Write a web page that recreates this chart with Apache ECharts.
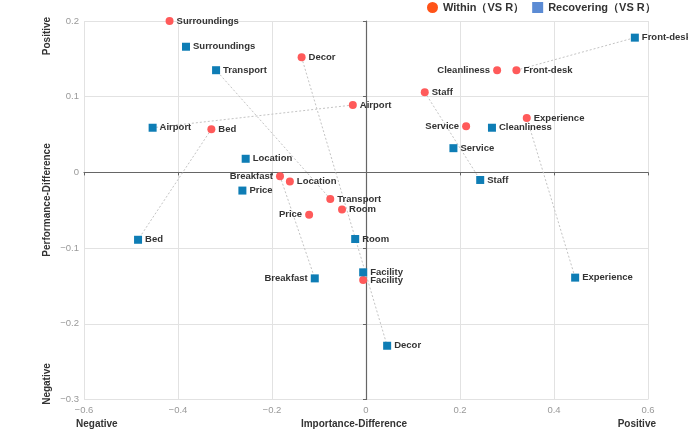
<!DOCTYPE html>
<html>
<head>
<meta charset="utf-8">
<script src="https://cdn.jsdelivr.net/npm/echarts@6/dist/echarts.min.js"></script>
<style>
  html, body { margin: 0; padding: 0; background: #fff; }
  #chart { width: 688px; height: 443px; }
</style>
</head>
<body>
<div id="chart"></div>
<script>
const FONT = "'Liberation Sans', Arial, sans-serif";
const WITHIN_COLOR = "#ff5a5a";
const RECOV_COLOR = "#0e7db5";
const LABEL_COLOR = "#333";
const AXIS_TEXT = "#999";

const withinNames = ["Surroundings", "Decor", "Airport", "Bed", "Breakfast", "Location", "Transport",
  "Room", "Price", "Facility", "Cleanliness", "Front-desk", "Staff", "Service", "Experience"];
const withinX = [-0.418, -0.137, -0.028, -0.329, -0.183, -0.162, -0.076,
  -0.051, -0.121, -0.006, 0.279, 0.320, 0.125, 0.213, 0.342];
const withinY = [0.200, 0.152, 0.089, 0.057, -0.005, -0.012, -0.035,
  -0.049, -0.056, -0.142, 0.135, 0.135, 0.106, 0.061, 0.072];

const recovNames = ["Surroundings", "Transport", "Airport", "Location", "Price", "Bed", "Breakfast",
  "Room", "Facility", "Decor", "Experience", "Staff", "Service", "Cleanliness", "Front-desk"];
const recovX = [-0.383, -0.319, -0.454, -0.256, -0.263, -0.485, -0.109,
  -0.023, -0.006, 0.045, 0.445, 0.243, 0.186, 0.268, 0.572];
const recovY = [0.166, 0.135, 0.059, 0.018, -0.024, -0.089, -0.140,
  -0.088, -0.132, -0.229, -0.139, -0.010, 0.032, 0.059, 0.178];

// pairs joined by a dotted line
const linkedNames = ["Front-desk", "Decor", "Airport", "Bed", "Transport", "Staff", "Experience", "Breakfast"];
// labels drawn on the left of the symbol
const withinLeft = ["Breakfast", "Price", "Service", "Cleanliness"];
const recovLeft = ["Breakfast"];

const xTicks = { min: -0.6, max: 0.6, interval: 0.2 };
const yTicks = { min: -0.3, max: 0.2, interval: 0.1 };

const fmtNum = (v) => {
  const s = String(Math.round(v * 10) / 10);
  return s.replace("-", "\u2212");
};

function points(names, xs, ys, leftNames) {
  return names.map((n, i) => ({
    name: n,
    value: [xs[i], ys[i]],
    label: { position: leftNames.includes(n) ? "left" : "right" },
  }));
}

const linkSeries = linkedNames.map((n) => {
  const a = withinNames.indexOf(n);
  const b = recovNames.indexOf(n);
  return {
    type: "line",
    xAxisIndex: 0,
    yAxisIndex: 0,
    silent: true,
    symbol: "none",
    lineStyle: { color: "#c4c4c4", width: 1, type: [2, 2] },
    data: [[withinX[a], withinY[a]], [recovX[b], recovY[b]]],
    z: 1,
  };
});

const labelStyle = {
  show: true,
  formatter: "{b}",
  color: LABEL_COLOR,
  fontSize: 9.5,
  fontWeight: "bold",
  fontFamily: FONT,
  distance: 3,
};

const edgeFont = "bold 10px " + FONT;

const chart = echarts.init(document.getElementById("chart"), null, { renderer: "canvas" });

chart.setOption({
  animation: false,
  backgroundColor: "#fff",
  textStyle: { fontFamily: FONT },
  legend: {
    left: 427,
    top: 0,
    padding: [2, 0],
    itemWidth: 11,
    itemHeight: 11,
    itemGap: 8,
    textStyle: { color: LABEL_COLOR, fontSize: 11, fontWeight: "bold", fontFamily: FONT },
    data: [
      { name: "Within（VS R）", icon: "circle", itemStyle: { color: "#ff5318" } },
      { name: "Recovering（VS R）", icon: "rect", itemStyle: { color: "#5b8bd4" } },
    ],
  },
  grid: { left: 84, right: 40, top: 21, bottom: 43.5 },
  xAxis: [
    {
      type: "value",
      ...xTicks,
      axisLine: { show: false },
      axisTick: { show: false },
      axisLabel: { color: AXIS_TEXT, fontSize: 9.5, margin: 6, formatter: fmtNum },
      splitLine: { lineStyle: { color: "#e2e2e2", width: 1 } },
    },
    {
      type: "value",
      ...xTicks,
      position: "bottom",
      axisLine: { show: true, onZero: true, onZeroAxisIndex: 0, lineStyle: { color: "#666", width: 1.2 } },
      axisTick: { show: true, length: 3, lineStyle: { color: "#666" } },
      axisLabel: { show: false },
      splitLine: { show: false },
    },
  ],
  yAxis: [
    {
      type: "value",
      ...yTicks,
      axisLine: { show: false },
      axisTick: { show: false },
      axisLabel: { color: AXIS_TEXT, fontSize: 9.5, margin: 5, formatter: fmtNum },
      splitLine: { lineStyle: { color: "#e2e2e2", width: 1 } },
    },
    {
      type: "value",
      ...yTicks,
      position: "left",
      axisLine: { show: true, onZero: true, onZeroAxisIndex: 0, lineStyle: { color: "#666", width: 1.2 } },
      axisTick: { show: true, length: 3, lineStyle: { color: "#666" } },
      axisLabel: { show: false },
      splitLine: { show: false },
    },
  ],
  graphic: [
    { type: "text", x: 76, y: 424, style: { text: "Negative", fill: LABEL_COLOR, font: edgeFont, verticalAlign: "middle" } },
    { type: "text", x: 354, y: 424, style: { text: "Importance-Difference", fill: LABEL_COLOR, font: edgeFont, align: "center", verticalAlign: "middle" } },
    { type: "text", x: 656, y: 424, style: { text: "Positive", fill: LABEL_COLOR, font: edgeFont, align: "right", verticalAlign: "middle" } },
    { type: "text", x: 47, y: 36, rotation: Math.PI / 2, style: { text: "Positive", fill: LABEL_COLOR, font: edgeFont, align: "center", verticalAlign: "middle" } },
    { type: "text", x: 47, y: 200, rotation: Math.PI / 2, style: { text: "Performance-Difference", fill: LABEL_COLOR, font: edgeFont, align: "center", verticalAlign: "middle" } },
    { type: "text", x: 47, y: 384, rotation: Math.PI / 2, style: { text: "Negative", fill: LABEL_COLOR, font: edgeFont, align: "center", verticalAlign: "middle" } },
  ],
  series: [
    ...linkSeries,
    {
      name: "Within（VS R）",
      type: "scatter",
      symbol: "circle",
      symbolSize: 8,
      itemStyle: { color: WITHIN_COLOR, opacity: 1 },
      label: labelStyle,
      data: points(withinNames, withinX, withinY, withinLeft),
      z: 3,
    },
    {
      name: "Recovering（VS R）",
      type: "scatter",
      symbol: "rect",
      symbolSize: 8,
      itemStyle: { color: RECOV_COLOR, opacity: 1 },
      label: labelStyle,
      data: points(recovNames, recovX, recovY, recovLeft),
      z: 3,
    },
  ],
});
</script>
</body>
</html>
